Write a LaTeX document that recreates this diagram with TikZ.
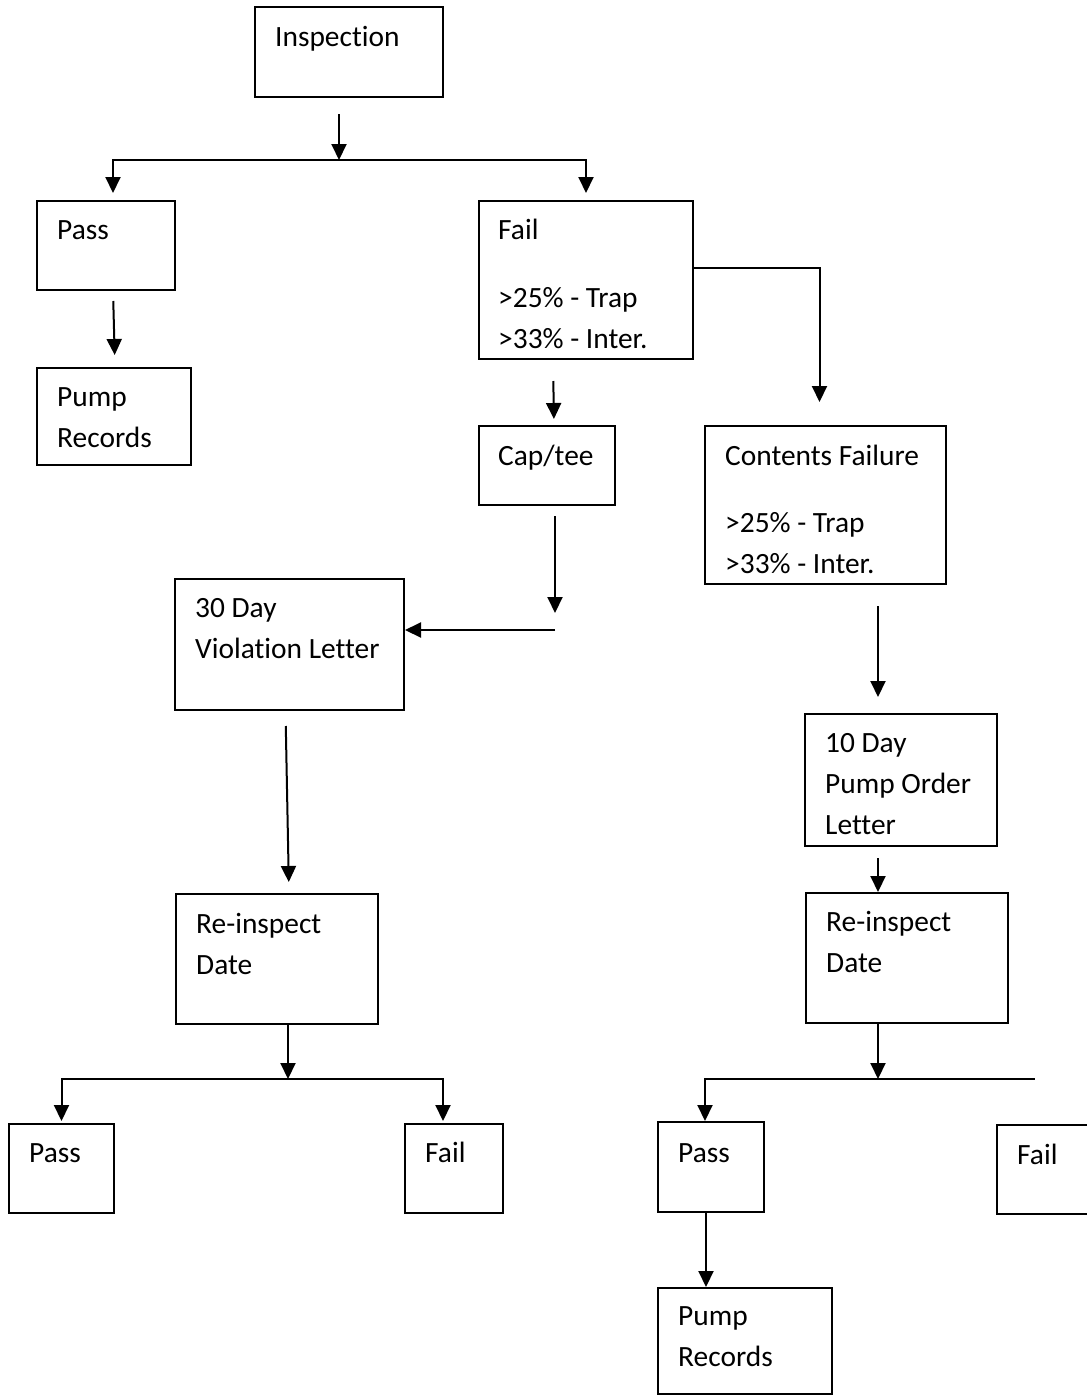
\documentclass[tikz,border=0pt]{standalone}
\usepackage{fontspec}
\setmainfont[Ligatures=NoCommon]{Carlito}
\usetikzlibrary{calc,arrows.meta}

\tikzset{
    box/.style={draw, line width=2pt, anchor=north west, inner sep=0pt},
    txt/.style={anchor=north west, align=left, inner sep=0pt,
        font=\fontsize{29.4}{41}\selectfont, execute at begin node=\strut},
    arr/.style={line width=2pt, -{Triangle[length=16pt,width=15pt]}},
    ln/.style={line width=2pt}
}

\begin{document}
\begin{tikzpicture}[x=1pt,y=-1pt]
    \clip (0,0) rectangle (1087,1395);
    \useasboundingbox (0,0) rectangle (1087,1395);

    % Boxes
    \node[box, minimum width=188, minimum height=90]  (insp)     at (254,6)    {};
    \node[box, minimum width=138, minimum height=89]  (pass1)    at (36,200)   {};
    \node[box, minimum width=154, minimum height=97]  (pump1)    at (36,367)   {};
    \node[box, minimum width=214, minimum height=158] (fail1)    at (478,200)  {};
    \node[box, minimum width=136, minimum height=79]  (cap)      at (478,425)  {};
    \node[box, minimum width=241, minimum height=158] (contents) at (704,425)  {};
    \node[box, minimum width=229, minimum height=131] (viol)     at (174,578)  {};
    \node[box, minimum width=202, minimum height=130] (reinsL)   at (175,893)  {};
    \node[box, minimum width=192, minimum height=132] (order)    at (804,713)  {};
    \node[box, minimum width=202, minimum height=130] (reinsR)   at (805,892)  {};
    \node[box, minimum width=105, minimum height=89]  (passL)    at (8,1123)   {};
    \node[box, minimum width=98,  minimum height=89]  (failL)    at (404,1123) {};
    \node[box, minimum width=106, minimum height=90]  (passR)    at (657,1121) {};
    \node[box, minimum width=110, minimum height=89]  (failR)    at (996,1124) {};
    \node[box, minimum width=174, minimum height=106] (pump2)    at (657,1287) {};

    % Box texts
    \node[txt] (insp-t)     at ($(insp.north west)+(21,12)$)     {Inspection};
    \node[txt] (pass1-t)    at ($(pass1.north west)+(21,11)$)    {Pass};
    \node[txt] (pump1-t)    at ($(pump1.north west)+(21,20)$)    {Pump\\Records};
    \node[txt] (fail1-t)    at ($(fail1.north west)+(20,19)$)    {Fail\\[27pt]>25\% - Trap\\>33\% - Inter.};
    \node[txt] (cap-t)      at ($(cap.north west)+(20,12)$)      {Cap/tee};
    \node[txt] (contents-t) at ($(contents.north west)+(21,20)$) {Contents Failure\\[26pt]>25\% - Trap\\>33\% - Inter.};
    \node[txt] (viol-t)     at ($(viol.north west)+(21,20)$)     {30 Day\\Violation Letter};
    \node[txt] (reinsL-t)   at ($(reinsL.north west)+(21,20)$)   {Re-inspect\\Date};
    \node[txt] (order-t)    at ($(order.north west)+(21,20)$)    {10 Day\\Pump Order\\Letter};
    \node[txt] (reinsR-t)   at ($(reinsR.north west)+(21,19)$)   {Re-inspect\\Date};
    \node[txt] (passL-t)    at ($(passL.north west)+(21,11)$)    {Pass};
    \node[txt] (failL-t)    at ($(failL.north west)+(21,11)$)    {Fail};
    \node[txt] (passR-t)    at ($(passR.north west)+(21,13)$)    {Pass};
    \node[txt] (failR-t)    at ($(failR.north west)+(21,12)$)    {Fail};
    \node[txt] (pump2-t)    at ($(pump2.north west)+(21,19)$)    {Pump\\Records};

    % Junctions
    \coordinate (fork1) at (339,160);
    \coordinate (bend)  at (555,630);
    \coordinate (fork2) at (288,1079);
    \coordinate (fork3) at (878,1079);
    \coordinate (fork3end) at (1035,1079);

    % Top split
    \draw[arr, shorten <=16pt] (fork1 |- insp.south) -- (fork1);
    \draw[arr, shorten >=7pt] (fork1) -| ([xshift=7pt]pass1.north);
    \draw[arr, shorten >=7pt] (fork1) -| (fail1.north);
    \draw[arr, shorten <=10pt, shorten >=12pt] ([xshift=7pt]pass1.south) -- ([xshift=1pt]pump1.north);

    % Fail branch
    \draw[arr, shorten >=23pt] ([yshift=12pt]fail1.east) -| ([xshift=-6pt]contents.north);
    \draw[arr, shorten <=21pt, shorten >=6pt] ([xshift=-33pt]fail1.south) -- ([xshift=7pt]cap.north);
    \draw[arr, shorten <=10pt, shorten >=17pt] (bend |- cap.south) -- (bend);
    \draw[arr] (bend) -- (viol.east |- bend);
    \draw[arr, shorten <=15pt, shorten >=11pt] ([xshift=-4pt]viol.south) -- ([xshift=12pt]reinsL.north);

    % Left re-inspection
    \draw[arr] (fork2 |- reinsL.south) -- (fork2);
    \draw[arr, shorten >=2pt] (fork2) -| (passL.north);
    \draw[arr, shorten >=2pt] (fork2) -| ([xshift=-11pt]failL.north);

    % Contents branch
    \draw[arr, shorten <=21pt, shorten >=16pt] (fork3 |- contents.south) -- (fork3 |- order.north);
    \draw[arr, shorten <=11pt] (fork3 |- order.south) -- (fork3 |- reinsR.north);
    \draw[arr] (fork3 |- reinsR.south) -- (fork3);
    \draw[arr] (fork3) -| ([xshift=-6pt]passR.north);
    \draw[ln] (fork3) -- (fork3end);
    \draw[arr] ([xshift=-5pt]passR.south) -- ([xshift=-39pt]pump2.north);
\end{tikzpicture}
\end{document}
